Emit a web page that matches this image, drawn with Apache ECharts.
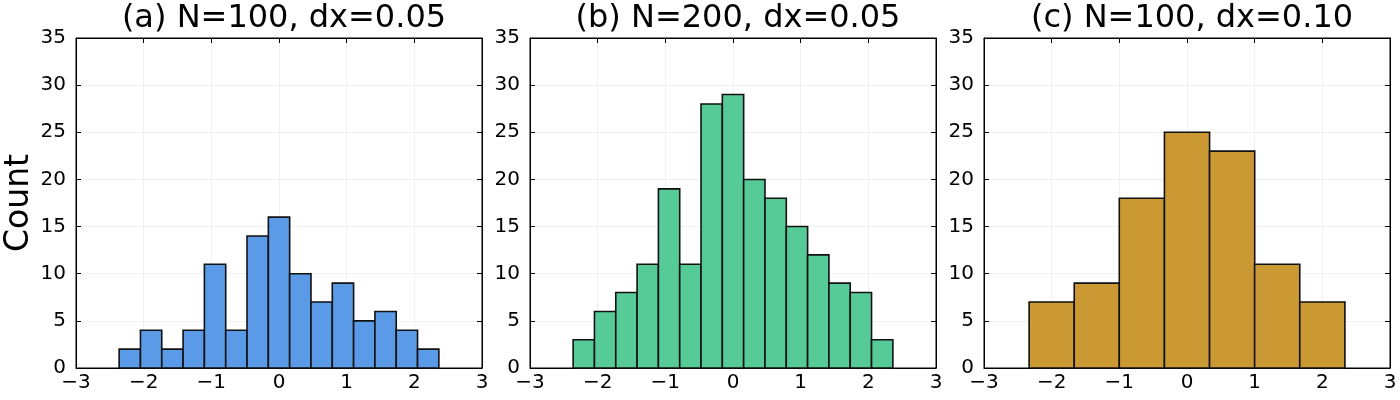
<!DOCTYPE html>
<html>
<head>
<meta charset="utf-8">
<script src="https://cdn.jsdelivr.net/npm/echarts@6/dist/echarts.min.js"></script>
<style>
html,body{margin:0;padding:0;background:#fff;}
#chart{width:1400px;height:400px;}
</style>
</head>
<body>
<div id="chart"></div>
<script>
// ---- data ----
const titles = ['(a) N=100, dx=0.05', '(b) N=200, dx=0.05', '(c) N=100, dx=0.10'];
const binWidthA = 0.315;
const binCentersA = [-2.205, -1.89, -1.575, -1.26, -0.945, -0.63, -0.315, 0, 0.315, 0.63, 0.945, 1.26, 1.575, 1.89, 2.205];
const countsA = [2, 4, 2, 4, 11, 4, 14, 16, 10, 7, 9, 5, 6, 4, 2];
const binWidthB = 0.315;
const binCentersB = [-2.205, -1.89, -1.575, -1.26, -0.945, -0.63, -0.315, 0, 0.315, 0.63, 0.945, 1.26, 1.575, 1.89, 2.205];
const countsB = [3, 6, 8, 11, 19, 11, 28, 29, 20, 18, 15, 12, 9, 8, 3];
const binWidthC = 0.667;
const binCentersC = [-2, -1.333, -0.667, 0, 0.667, 1.333, 2];
const countsC = [7, 9, 18, 25, 23, 11, 7];
const colors = ['#5a9ae6', '#57cb97', '#cb9933'];
const xTicks = [-3, -2, -1, 0, 1, 2, 3];
const yTicks = [0, 5, 10, 15, 20, 25, 30, 35];

const panels = [
  {centers: binCentersA, counts: countsA, width: binWidthA},
  {centers: binCentersB, counts: countsB, width: binWidthB},
  {centers: binCentersC, counts: countsC, width: binWidthC}
];
const lefts = [76, 530, 984];
const gw = 406, gtop = 38, gh = 330;
const FONT = 'DejaVu Sans';

const fmt = v => String(v).replace('-', '\u2212');

const grid = [], xAxis = [], yAxis = [], series = [], title = [];
panels.forEach((p, i) => {
  grid.push({left: lefts[i], top: gtop, width: gw, height: gh, show: true, borderColor: '#000', borderWidth: 1,
    backgroundColor: '#fff', containLabel: false, outerBoundsMode: 'none'});
  title.push({text: titles[i], left: lefts[i] + gw / 2, top: -2, textAlign: 'center',
    textStyle: {fontFamily: FONT, fontSize: 32, fontWeight: 'normal', color: '#000'}});
  const xbase = {type: 'value', gridIndex: i, min: xTicks[0], max: xTicks[xTicks.length - 1], interval: 1};
  xAxis.push(Object.assign({}, xbase, {position: 'bottom',
    axisLine: {show: true, onZero: false, lineStyle: {color: '#000', width: 1}},
    axisTick: {show: true, inside: true, length: 5, lineStyle: {color: '#000'}},
    axisLabel: {fontFamily: FONT, fontSize: 20, color: '#000', margin: 5, formatter: fmt},
    splitLine: {show: true, lineStyle: {color: '#f0f0f0', width: 1}}}));
  xAxis.push(Object.assign({}, xbase, {position: 'top',
    axisLine: {show: true, onZero: false, lineStyle: {color: '#000', width: 1}},
    axisTick: {show: true, inside: true, length: 5, lineStyle: {color: '#000'}},
    axisLabel: {show: false}, splitLine: {show: false}}));
  const ybase = {type: 'value', gridIndex: i, min: yTicks[0], max: yTicks[yTicks.length - 1], interval: 5};
  yAxis.push(Object.assign({}, ybase, {position: 'left',
    axisLine: {show: true, onZero: false, lineStyle: {color: '#000', width: 1}},
    axisTick: {show: true, inside: true, length: 5, lineStyle: {color: '#000'}},
    axisLabel: {fontFamily: FONT, fontSize: 20, color: '#000', margin: 10},
    splitLine: {show: true, lineStyle: {color: '#f0f0f0', width: 1}},
    name: i === 0 ? 'Count' : '', nameLocation: 'middle', nameGap: 40,
    nameTextStyle: {fontFamily: FONT, fontSize: 33, color: '#000'}}));
  yAxis.push(Object.assign({}, ybase, {position: 'right',
    axisLine: {show: true, onZero: false, lineStyle: {color: '#000', width: 1}},
    axisTick: {show: true, inside: true, length: 5, lineStyle: {color: '#000'}},
    axisLabel: {show: false}, splitLine: {show: false}}));
  const w = p.width;
  series.push({
    type: 'custom', xAxisIndex: 2 * i, yAxisIndex: 2 * i,
    data: p.centers.map((c, k) => [c, p.counts[k]]),
    renderItem: function (params, api) {
      const c = api.value(0), v = api.value(1);
      const p0 = api.coord([c - w / 2, v]);
      const p1 = api.coord([c + w / 2, 0]);
      return {type: 'rect', shape: {x: p0[0], y: p0[1], width: p1[0] - p0[0], height: p1[1] - p0[1]},
        style: {fill: colors[i], stroke: '#111', lineWidth: 1.6}};
    },
    z: 3
  });
});

const chart = echarts.init(document.getElementById('chart'), null, {renderer: 'canvas'});
chart.setOption({animation: false, title, grid, xAxis, yAxis, series});
</script>
</body>
</html>
